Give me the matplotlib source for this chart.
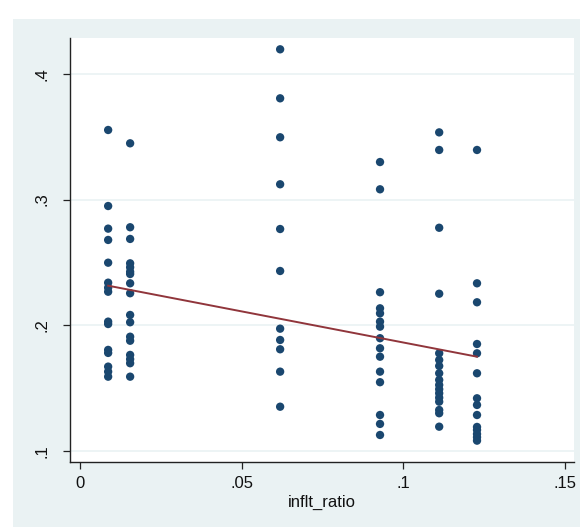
import numpy as np
import matplotlib
matplotlib.use("Agg")
import matplotlib.pyplot as plt
from matplotlib.patches import Rectangle

# ---- data ----
x_groups = [0.0087, 0.0155, 0.0619, 0.0928, 0.1111, 0.1228]
y_groups = [
    [0.3554, 0.2949, 0.2769, 0.2679, 0.2498, 0.2339, 0.2299, 0.2267, 0.2029,
     0.2010, 0.1804, 0.1780, 0.1671, 0.1631, 0.1591],
    [0.3448, 0.2780, 0.2687, 0.2493, 0.2461, 0.2426, 0.2408, 0.2334, 0.2255,
     0.2082, 0.2024, 0.1909, 0.1877, 0.1764, 0.1730, 0.1698, 0.1591],
    [0.4196, 0.3806, 0.3496, 0.3122, 0.2766, 0.2432, 0.1973, 0.1883, 0.1809,
     0.1631, 0.1352],
    [0.3299, 0.3082, 0.2263, 0.2135, 0.2095, 0.2029, 0.1989, 0.1897, 0.1817,
     0.1750, 0.1631, 0.1547, 0.1286, 0.1215, 0.1127],
    [0.3535, 0.3395, 0.2776, 0.2251, 0.1777, 0.1724, 0.1676, 0.1618, 0.1565,
     0.1525, 0.1491, 0.1459, 0.1424, 0.1392, 0.1326, 0.1300, 0.1193],
    [0.3395, 0.2334, 0.2183, 0.1851, 0.1777, 0.1618, 0.1419, 0.1366, 0.1286,
     0.1191, 0.1167, 0.1135, 0.1109, 0.1082],
]
# fitted line (linear fit) values at the first and last x group
fit_x = [0.0087, 0.1228]
fit_y = [0.2315, 0.1750]

x_ticks = [0, 0.05, 0.1, 0.15]
x_tick_labels = ["0", ".05", ".1", ".15"]
y_ticks = [0.1, 0.2, 0.3, 0.4]
y_tick_labels = [".1", ".2", ".3", ".4"]
x_label = "inflt_ratio"

xs = np.concatenate([[x] * len(ys) for x, ys in zip(x_groups, y_groups)])
ys = np.concatenate(y_groups)

plt.rcParams['font.family'] = ['Liberation Sans', 'DejaVu Sans']

W, H = 582, 527
fig = plt.figure(figsize=(W / 100, H / 100), dpi=100, facecolor='white')
# Stata graph region
bg = Rectangle((13 / W, 0), (580 - 13) / W, (527 - 19) / H,
               transform=fig.transFigure, facecolor='#EAF2F3',
               edgecolor='none', zorder=-10)
fig.add_artist(bg)

ax = fig.add_axes([70 / W, (527 - 462) / H, (574 - 70) / W, (462 - 38) / H])
ax.set_zorder(5)
ax.set_facecolor('white')

ax.set_xlim(-0.0031, 0.1528)
ax.set_ylim(0.0912, 0.4286)

for t in y_ticks:
    ax.axhline(t, color='#EAF2F3', lw=1.2, zorder=1)

ax.scatter(xs, ys, s=36, color='#1A476F', edgecolors='none', zorder=3)

ax.plot(fit_x, fit_y, color='#90353B', lw=1.4, zorder=4)

for s in ['top', 'right']:
    ax.spines[s].set_visible(False)
for s in ['left', 'bottom']:
    ax.spines[s].set_color('#222222')
    ax.spines[s].set_linewidth(1.0)

ax.set_xticks(x_ticks)
ax.set_xticklabels(x_tick_labels)
ax.set_yticks(y_ticks)
ax.set_yticklabels(y_tick_labels, rotation=90, va='center')
ax.tick_params(axis='both', direction='out', length=5, width=0.9,
               color='#222222', labelsize=12, labelcolor='#111111')
ax.tick_params(axis='x', pad=5)
ax.tick_params(axis='y', pad=10)

ax.set_xlabel(x_label, fontsize=12, color='#111111', labelpad=3)

fig.savefig('out.png', dpi=100, facecolor='white')
